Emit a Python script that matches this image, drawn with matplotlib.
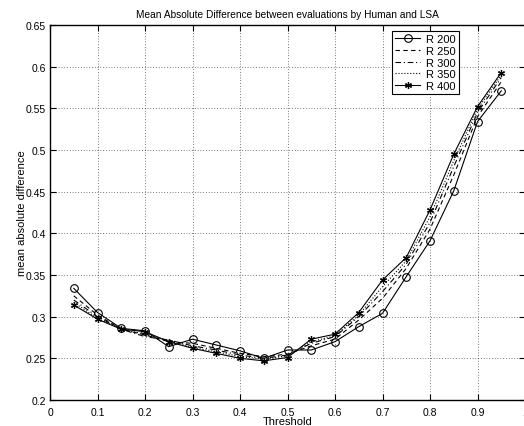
''' Mean absolute difference between human and LSA evaluations.
'''
import matplotlib
matplotlib.use('Agg')
import matplotlib.pyplot as plt

threshold = [0.05, 0.10, 0.15, 0.20, 0.25, 0.30, 0.35, 0.40, 0.45, 0.50,
             0.55, 0.60, 0.65, 0.70, 0.75, 0.80, 0.85, 0.90, 0.95]

r200 = [0.334, 0.305, 0.286, 0.283, 0.264, 0.273, 0.266, 0.259, 0.250, 0.260,
        0.260, 0.270, 0.288, 0.304, 0.348, 0.391, 0.451, 0.534, 0.571]
r250 = [0.325, 0.302, 0.285, 0.278, 0.270, 0.268, 0.262, 0.256, 0.252, 0.255,
        0.265, 0.273, 0.296, 0.322, 0.358, 0.405, 0.470, 0.540, 0.582]
r300 = [0.320, 0.300, 0.285, 0.276, 0.272, 0.265, 0.260, 0.254, 0.250, 0.254,
        0.268, 0.276, 0.300, 0.330, 0.363, 0.413, 0.480, 0.545, 0.587]
r350 = [0.317, 0.298, 0.285, 0.279, 0.271, 0.263, 0.258, 0.252, 0.249, 0.253,
        0.270, 0.277, 0.302, 0.336, 0.367, 0.420, 0.487, 0.549, 0.590]
r400 = [0.314, 0.297, 0.285, 0.282, 0.270, 0.262, 0.256, 0.250, 0.247, 0.251,
        0.273, 0.279, 0.305, 0.344, 0.371, 0.428, 0.495, 0.552, 0.593]

labels = ['R 200', 'R 250', 'R 300', 'R 350', 'R 400']

plt.rcParams['font.family'] = ['Liberation Sans', 'DejaVu Sans']
plt.rcParams['font.size'] = 7.5

W, H = 524, 427
fig = plt.figure(figsize=(W / 100, H / 100), dpi=100)
ax = fig.add_axes([50 / W, (H - 401) / H, 475 / W, (401 - 26) / H])

lw = 0.8
ax.plot(threshold, r200, '-', color='black', lw=lw, marker='o', ms=5.5,
        mfc='none', mec='black', mew=0.8, label=labels[0])
ax.plot(threshold, r250, '--', color='black', lw=lw, dashes=(4, 3), label=labels[1])
ax.plot(threshold, r300, '-.', color='black', lw=lw, dashes=(5, 2.5, 1, 2.5), label=labels[2])
ax.plot(threshold, r350, ':', color='black', lw=lw, label=labels[3])
ax.plot(threshold, r400, '-', color='black', lw=lw, marker=(6, 2, 0), ms=5,
        mec='black', mew=0.9, label=labels[4])

ax.set_xlim(0, 1)
ax.set_ylim(0.2, 0.65)
ax.set_xticks([0, 0.1, 0.2, 0.3, 0.4, 0.5, 0.6, 0.7, 0.8, 0.9, 1.0])
ax.set_xticklabels(['0', '0.1', '0.2', '0.3', '0.4', '0.5', '0.6', '0.7', '0.8', '0.9', '1'])
ax.set_yticks([0.2, 0.25, 0.3, 0.35, 0.4, 0.45, 0.5, 0.55, 0.6, 0.65])
ax.set_yticklabels(['0.2', '0.25', '0.3', '0.35', '0.4', '0.45', '0.5', '0.55', '0.6', '0.65'])
ax.tick_params(direction='in', top=True, right=True, length=4, width=0.8, pad=3)
ax.tick_params(axis='x', pad=5)
ax.grid(True, linestyle=(0, (1, 3)), color='black', lw=0.5)
for s in ax.spines.values():
    s.set_linewidth(1.0)

ax.set_title('Mean Absolute Difference between evaluations by Human and LSA',
             fontsize=7.3, pad=6)
ax.set_xlabel('Threshold', fontsize=8, labelpad=-1)
ax.set_ylabel('mean absolute difference', fontsize=8, labelpad=-1)

leg = ax.legend(loc='upper left', bbox_to_anchor=(342 / 475, 1 - 6 / 375),
                fancybox=False, edgecolor='black', framealpha=1, fontsize=8,
                handlelength=2.2, handletextpad=0.6, labelspacing=0.15,
                borderpad=0.3, borderaxespad=0)
leg.get_frame().set_linewidth(0.8)

fig.savefig('out.png', dpi=100)
